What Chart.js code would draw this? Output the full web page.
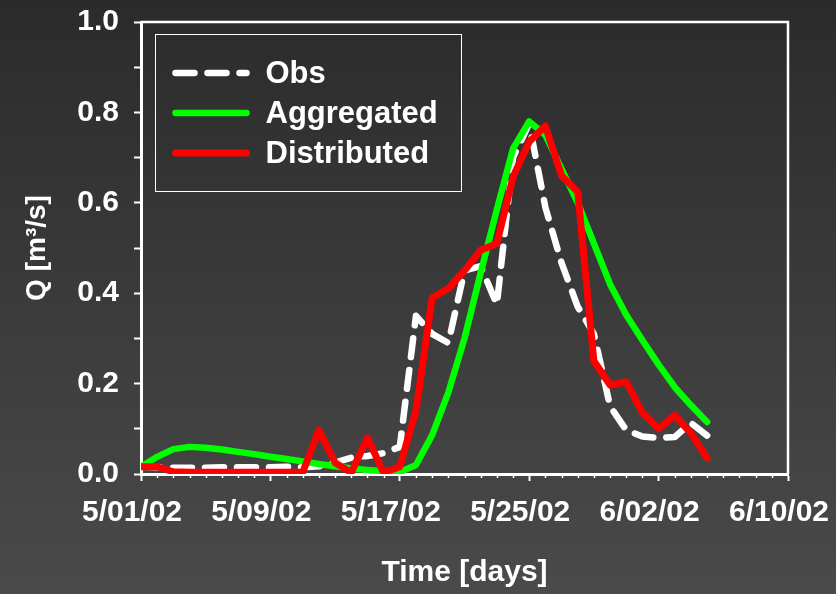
<!DOCTYPE html>
<html><head><meta charset="utf-8">
<script src="https://cdn.jsdelivr.net/npm/chart.js@4/dist/chart.umd.min.js"></script>
<style>html,body{margin:0;padding:0;background:#3a3a3a;overflow:hidden}canvas{display:block}</style>
</head><body>
<canvas id="c" width="836" height="594"></canvas>
<script>
// ---- data (days since 5/01/02) ----
const dayOffsets = [0,1,2,3,4,5,6,7,8,9,10,11,12,13,14,15,16,17,18,19,20,21,22,23,24,25,26,27,28,29,30,31,32,33,34,35];
const xTickLabels = ['5/01/02','5/09/02','5/17/02','5/25/02','6/02/02','6/10/02'];
const yTickLabels = ['0.0','0.2','0.4','0.6','0.8','1.0'];
const seriesNames = ['Obs','Aggregated','Distributed'];
const obs = [0.016,0.015,0.014,0.014,0.014,0.015,0.015,0.015,0.015,0.016,0.015,0.017,0.025,0.036,0.040,0.046,0.060,0.350,0.310,0.290,0.450,0.460,0.375,0.700,0.775,0.590,0.467,0.370,0.310,0.150,0.097,0.083,0.080,0.082,0.113,0.085];
const aggregated = [0.016,0.038,0.055,0.060,0.058,0.054,0.049,0.044,0.038,0.033,0.028,0.022,0.017,0.012,0.009,0.006,0.004,0.020,0.086,0.180,0.300,0.445,0.585,0.720,0.780,0.750,0.675,0.600,0.510,0.420,0.352,0.296,0.242,0.192,0.152,0.115];
const distributed = [0.016,0.016,0.005,0.004,0.004,0.004,0.004,0.004,0.004,0.004,0.004,0.097,0.025,0.003,0.080,0.003,0.016,0.140,0.390,0.410,0.450,0.495,0.510,0.657,0.735,0.770,0.660,0.624,0.250,0.197,0.204,0.135,0.100,0.130,0.090,0.035];

const FONT = '"Liberation Sans", Arial, sans-serif';
const toPts = arr => arr.map((v, i) => ({x: dayOffsets[i], y: v}));

const bgPlugin = {
  id: 'bg',
  beforeDraw(chart) {
    const {ctx, width, height} = chart;
    const g = ctx.createLinearGradient(0, 0, 0, height);
    g.addColorStop(0, '#2b2b2b');
    g.addColorStop(1, '#4a4a4a');
    ctx.save(); ctx.fillStyle = g; ctx.fillRect(0, 0, width, height); ctx.restore();
  }
};
const framePlugin = {
  id: 'frame',
  afterDatasetsDraw(chart) {
    const {ctx, chartArea: a} = chart;
    ctx.save();
    ctx.strokeStyle = '#ffffff'; ctx.lineWidth = 2.5;
    ctx.beginPath();
    ctx.moveTo(a.left, a.top); ctx.lineTo(a.right, a.top); ctx.lineTo(a.right, a.bottom);
    ctx.stroke();
    // minor day ticks on the time axis
    const xs = chart.scales.x;
    ctx.lineWidth = 1.5;
    for (let d = xs.min; d <= xs.max; d++) {
      if (d % 8 === 0) continue;
      const px = Math.round(xs.getPixelForValue(d)) + 0.5;
      ctx.beginPath(); ctx.moveTo(px, a.bottom); ctx.lineTo(px, a.bottom + 4); ctx.stroke();
    }
    ctx.restore();
  }
};
const legendPlugin = {
  id: 'boxLegend',
  afterDraw(chart) {
    const {ctx, chartArea: a} = chart;
    const left = a.left + 14.5, top = a.top + 12.5, w = 306, h = 157;
    ctx.save();
    ctx.strokeStyle = '#ffffff'; ctx.lineWidth = 1;
    ctx.strokeRect(left, top, w, h);
    chart.data.datasets.forEach((ds, i) => {
      const y = top + 38.5 + i * 40;
      ctx.strokeStyle = ds.borderColor; ctx.lineWidth = ds.borderWidth;
      ctx.lineCap = 'round';
      ctx.setLineDash(ds.borderDash || []);
      ctx.beginPath(); ctx.moveTo(left + 20, y); ctx.lineTo(left + 91, y); ctx.stroke();
      ctx.setLineDash([]);
      ctx.fillStyle = '#ffffff'; ctx.font = 'bold 31px ' + FONT;
      ctx.textBaseline = 'middle'; ctx.textAlign = 'left';
      ctx.fillText(ds.label, left + 110, y + 1);
    });
    ctx.restore();
  }
};

new Chart(document.getElementById('c'), {
  type: 'line',
  data: {
    datasets: [
      {label: seriesNames[0], data: toPts(obs), borderColor: '#ffffff', borderWidth: 6.5, borderDash: [19, 13], borderCapStyle: 'round', borderJoinStyle: 'round', pointRadius: 0, tension: 0, order: 2},
      {label: seriesNames[1], data: toPts(aggregated), borderColor: '#00ff00', borderWidth: 6.5, borderCapStyle: 'round', borderJoinStyle: 'round', pointRadius: 0, tension: 0, order: 1},
      {label: seriesNames[2], data: toPts(distributed), borderColor: '#ff0000', borderWidth: 7, borderCapStyle: 'round', borderJoinStyle: 'round', pointRadius: 0, tension: 0, order: 0}
    ]
  },
  options: {
    responsive: false, devicePixelRatio: 1, animation: false,
    layout: {padding: {left: 0, top: 22, right: 48, bottom: 0}},
    plugins: {legend: {display: false}, tooltip: {enabled: false}},
    scales: {
      x: {
        type: 'linear', min: 0, max: 40,
        border: {color: '#ffffff', width: 3},
        grid: {drawOnChartArea: false, tickLength: 7, tickWidth: 2, tickColor: '#ffffff'},
        ticks: {stepSize: 8, color: '#ffffff', padding: 14, labelOffset: -9, maxRotation: 0, autoSkip: false,
          font: {family: FONT, size: 30, weight: 'bold'},
          callback: v => xTickLabels[Math.round(v / 8)]},
        title: {display: true, text: 'Time [days]', color: '#ffffff', font: {family: FONT, size: 30, weight: 'bold'}, padding: {top: 0, bottom: 3}},
        afterFit(s) { s.height = 120; s.paddingLeft = 0; s.paddingRight = 0; }
      },
      y: {
        min: 0, max: 1,
        border: {color: '#ffffff', width: 3},
        grid: {drawOnChartArea: false, tickLength: 7, tickWidth: 2, tickColor: '#ffffff'},
        ticks: {stepSize: 0.1, color: '#ffffff', padding: 15, autoSkip: false,
          font: {family: FONT, size: 30, weight: 'bold'},
          callback: v => { const k = Math.round(v * 10); return k % 2 === 0 ? yTickLabels[k / 2] : ''; }},
        title: {display: true, text: 'Q [m³/s]', color: '#ffffff', font: {family: FONT, size: 28, weight: 'bold'}, padding: {top: 20, bottom: 0}},
        afterFit(s) { s.width = 141; s.paddingTop = 0; s.paddingBottom = 0; }
      }
    }
  },
  plugins: [bgPlugin, framePlugin, legendPlugin]
});
</script>
</body></html>
